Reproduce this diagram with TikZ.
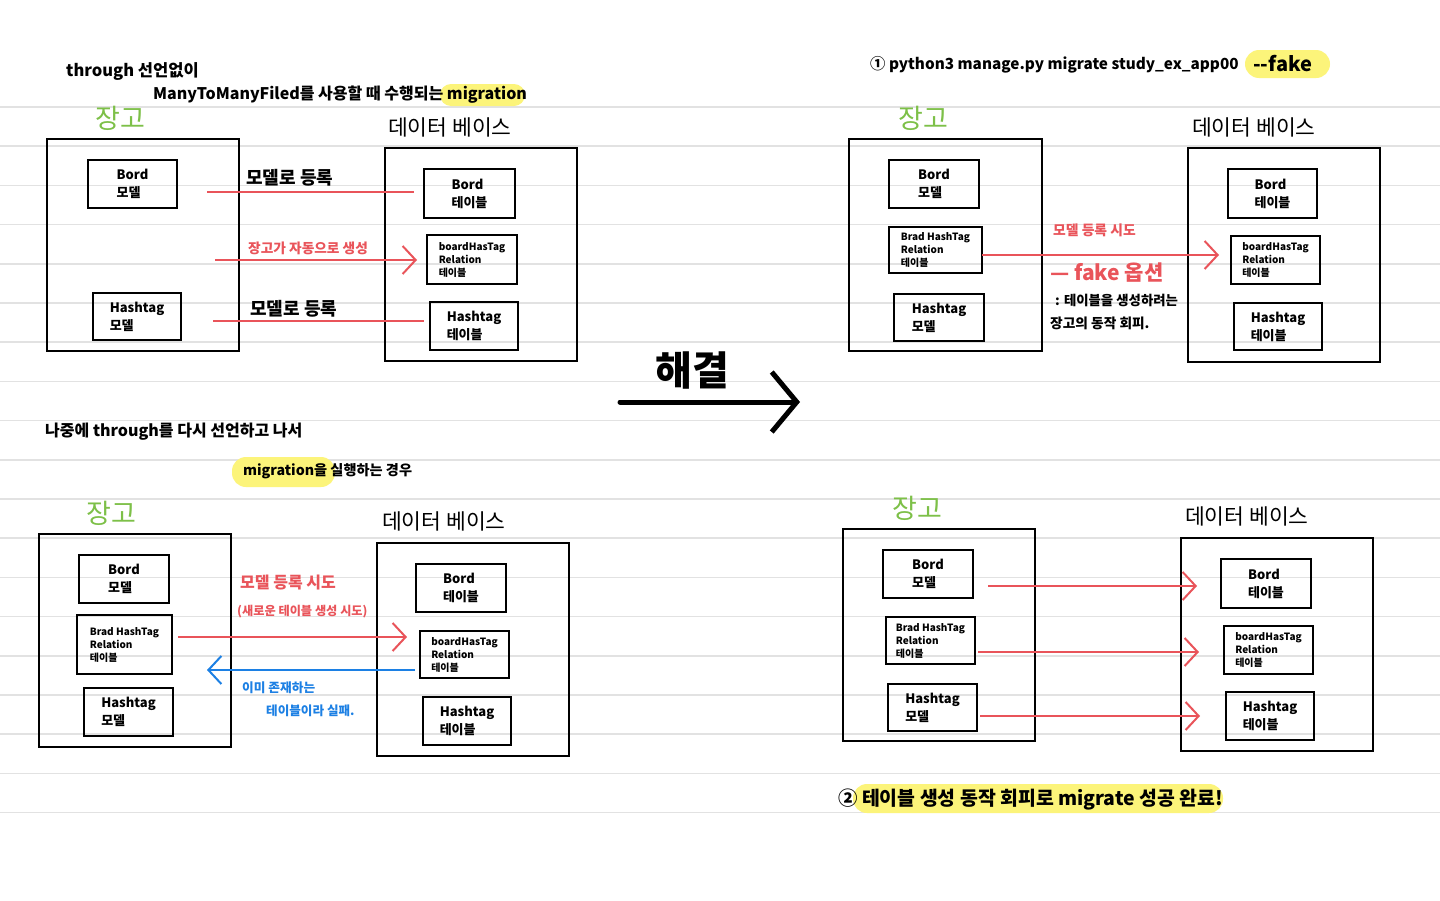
\documentclass[tikz,border=0pt]{standalone}
\usepackage{fontspec}
\setmainfont{Noto Sans CJK KR}
\usetikzlibrary{arrows.meta}
\definecolor{pred}{RGB}{233,84,90}
\definecolor{pblue}{RGB}{28,128,228}
\definecolor{pgreen}{RGB}{125,192,72}
\definecolor{pyellow}{RGB}{252,244,122}
\definecolor{prule}{RGB}{226,226,226}
\newcommand\myfs[2]{\fontsize{#1}{#2}\selectfont}
\newcommand\mybox[7][smallbox]{\node[#1,minimum width={#5-#3},minimum height={#6-#4}] (#2) at ({(#3+#5)/2},{(#4+#6)/2}) {#7};}
\begin{document}
\begin{tikzpicture}[x=1pt,y=-1pt,
  bigbox/.style={draw, line width=2.6pt, inner sep=0pt},
  smallbox/.style={draw, line width=2pt, inner sep=0pt, align=left, font=\myfs{13}{18}\bfseries},
  relbox/.style={draw, line width=2pt, inner sep=0pt, align=left, font=\myfs{10}{13}\bfseries},
  lbl/.style={inner sep=0pt, anchor=west, font=\bfseries},
  redln/.style={pred, line width=2pt},
  redar/.style={pred, line width=2pt, -{Straight Barb[length=13pt,width=28pt]}},
  bluear/.style={pblue, line width=2pt, -{Straight Barb[length=13pt,width=28pt]}},
  hl/.style={fill=pyellow, rounded corners=11pt},
  djlbl/.style={inner sep=0pt, anchor=west, text=pgreen, font=\myfs{27}{27}},
  dblbl/.style={inner sep=0pt, anchor=west, font=\myfs{21.5}{21.5}}]
\fill[white] (0,0) rectangle (1440,900);
\useasboundingbox (0,0) rectangle (1440,900);
\foreach \k in {0,...,18} \draw[prule, line width=1.6pt] (0,{107+39.2*\k}) -- (1440,{107+39.2*\k});

% ---------- panel 1 ----------
\fill[hl] (440,84) rectangle (525,106);
\node[lbl, font=\myfs{16.5}{16.5}\bfseries] (t1a) at (66,71) {through 선언없이};
\node[lbl, font=\myfs{16}{16}\bfseries] (t1b) at (153,95) {ManyToManyFiled를 사용할 때 수행되는 migration};
\node[djlbl] (dj1l) at (95,118) {장고};
\node[dblbl] (db1l) at (388,127) {데이터 베이스};
\mybox[bigbox]{dj1}{47}{139}{239}{351}{}
\mybox{bm1}{88}{160}{177}{208}{Bord\\모델}
\mybox{hm1}{93}{293}{181}{340}{Hashtag\\모델}
\mybox[bigbox]{db1}{385}{148}{577}{361}{}
\mybox{bt1}{424}{169}{515}{218}{Bord\\테이블}
\mybox[relbox]{rt1}{427}{235}{517}{284}{boardHasTag\\Relation\\테이블}
\mybox{ht1}{430}{302}{518}{350}{Hashtag\\테이블}
\coordinate (a1) at (207,192);
\coordinate (a2) at (215,260);
\coordinate (a3) at (213,321);
\draw[redln, shorten >=9pt] (a1) -- (a1 -| bt1.west);
\draw[redar, shorten >=9pt] (a2) -- (a2 -| rt1.west);
\draw[redln, shorten >=5pt] (a3) -- (a3 -| ht1.west);
\node[lbl, font=\myfs{18}{18}\bfseries] (l11) at (246,178) {모델로 등록};
\node[lbl, text=pred, font=\myfs{13.7}{13.7}\bfseries] (l12) at (248,248) {장고가 자동으로 생성};
\node[lbl, font=\myfs{18}{18}\bfseries] (l13) at (250,309) {모델로 등록};

% ---------- middle ----------
\node[font=\myfs{40}{40}\bfseries, inner sep=0pt] (sol) at (692,370) {해결};
\coordinate (h1) at (620,402);
\coordinate (h2) at (800,402);
\draw[line width=5pt, line cap=round, -{Straight Barb[length=25pt,width=60pt]}] (h1) -- (h2);

% ---------- panel 2 ----------
\node[lbl, font=\myfs{16}{16}\bfseries] (t2a) at (45,432) {나중에 through를 다시 선언하고 나서};
\fill[hl, rounded corners=14pt] (232,457) rectangle (335,487);
\node[lbl, font=\myfs{14.2}{14.2}\bfseries] (t2b) at (243,471) {migration을 실행하는 경우};
\node[djlbl] (dj2l) at (86,513) {장고};
\node[dblbl] (db2l) at (382,521) {데이터 베이스};
\mybox[bigbox]{dj2}{39}{534}{231}{747}{}
\mybox{bm2}{79}{555}{169}{603}{Bord\\모델}
\mybox[relbox]{rm2}{77}{615}{172}{674}{Brad HashTag\\Relation\\테이블}
\mybox{hm2}{84}{688}{173}{736}{Hashtag\\모델}
\mybox[bigbox]{db2}{377}{543}{569}{756}{}
\mybox{bt2}{416}{564}{506}{612}{Bord\\테이블}
\mybox[relbox]{rt2}{420}{631}{509}{678}{boardHasTag\\Relation\\테이블}
\mybox{ht2}{423}{697}{511}{745}{Hashtag\\테이블}
\coordinate (b1) at (178,637);
\coordinate (b2) at (207,670);
\draw[redar, shorten >=12pt] (b1) -- (b1 -| rt2.west);
\draw[bluear, shorten <=4pt] (b2 -| rt2.west) -- (b2);
\node[lbl, text=pred, font=\myfs{16}{16}\bfseries] (l21) at (240,583) {모델 등록 시도};
\node[lbl, text=pred, font=\myfs{12.2}{12.2}\bfseries] (l22) at (237,612) {(새로운 테이블 생성 시도)};
\node[lbl, text=pblue, font=\myfs{12.7}{12.7}\bfseries] (l23) at (242,688) {이미 존재하는};
\node[lbl, text=pblue, font=\myfs{12.6}{12.6}\bfseries] (l24) at (266,711) {테이블이라 실패.};

% ---------- panel 3 ----------
\fill[hl, rounded corners=14pt] (1245,50) rectangle (1330,78);
\node[lbl, font=\myfs{15.3}{15.3}\bfseries] (t3a) at (870,65) {① python3 manage.py migrate study\_ex\_app00};
\node[lbl, font=\myfs{20}{20}\bfseries] (t3b) at (1253,64) {{-}{-}fake};
\node[djlbl] (dj3l) at (898,118) {장고};
\node[dblbl] (db3l) at (1192,127) {데이터 베이스};
\mybox[bigbox]{dj3}{849}{139}{1042}{351}{}
\mybox{bm3}{889}{160}{979}{208}{Bord\\모델}
\mybox[relbox]{rm3}{889}{227}{982}{273}{Brad HashTag\\Relation\\테이블}
\mybox{hm3}{894}{294}{984}{341}{Hashtag\\모델}
\mybox[bigbox]{db3}{1188}{148}{1380}{362}{}
\mybox{bt3}{1228}{169}{1317}{218}{Bord\\테이블}
\mybox[relbox]{rt3}{1231}{236}{1320}{284}{boardHasTag\\Relation\\테이블}
\mybox{ht3}{1234}{303}{1322}{350}{Hashtag\\테이블}
\coordinate (c1) at (982,255);
\draw[redar, shorten >=11pt] (c1) -- (c1 -| rt3.west);
\node[lbl, text=pred, font=\myfs{13.8}{13.8}\bfseries] (l31) at (1053,230) {모델 등록 시도};
\node[lbl, text=pred, font=\myfs{21}{21}\bfseries] (l32) at (1050,273) {— fake 옵션};
\node[lbl, font=\myfs{13.4}{13.4}\bfseries] (l33) at (1055,300) {: 테이블을 생성하려는};
\node[lbl, font=\myfs{13.7}{13.7}\bfseries] (l34) at (1050,323) {장고의 동작 회피.};

% ---------- panel 4 ----------
\node[djlbl] (dj4l) at (892,508) {장고};
\node[dblbl] (db4l) at (1185,516) {데이터 베이스};
\mybox[bigbox]{dj4}{843}{529}{1035}{741}{}
\mybox{bm4}{883}{550}{973}{598}{Bord\\모델}
\mybox[relbox]{rm4}{886}{617}{975}{664}{Brad HashTag\\Relation\\테이블}
\mybox{hm4}{888}{684}{977}{731}{Hashtag\\모델}
\mybox[bigbox]{db4}{1181}{538}{1373}{751}{}
\mybox{bt4}{1221}{559}{1311}{608}{Bord\\테이블}
\mybox[relbox]{rt4}{1224}{626}{1313}{674}{boardHasTag\\Relation\\테이블}
\mybox{ht4}{1226}{692}{1314}{740}{Hashtag\\테이블}
\coordinate (d1) at (988,586);
\coordinate (d2) at (978,652);
\coordinate (d3) at (980,716);
\draw[redar, shorten >=23pt] (d1) -- (d1 -| bt4.west);
\draw[redar, shorten >=24pt] (d2) -- (d2 -| rt4.west);
\draw[redar, shorten >=25pt] (d3) -- (d3 -| ht4.west);
\fill[hl, rounded corners=14pt] (853,784) rectangle (1223,813);
\node[lbl, font=\myfs{19.4}{19.4}\bfseries] (t4) at (838,800) {② 테이블 생성 동작 회피로 migrate 성공 완료!};
\end{tikzpicture}
\end{document}
